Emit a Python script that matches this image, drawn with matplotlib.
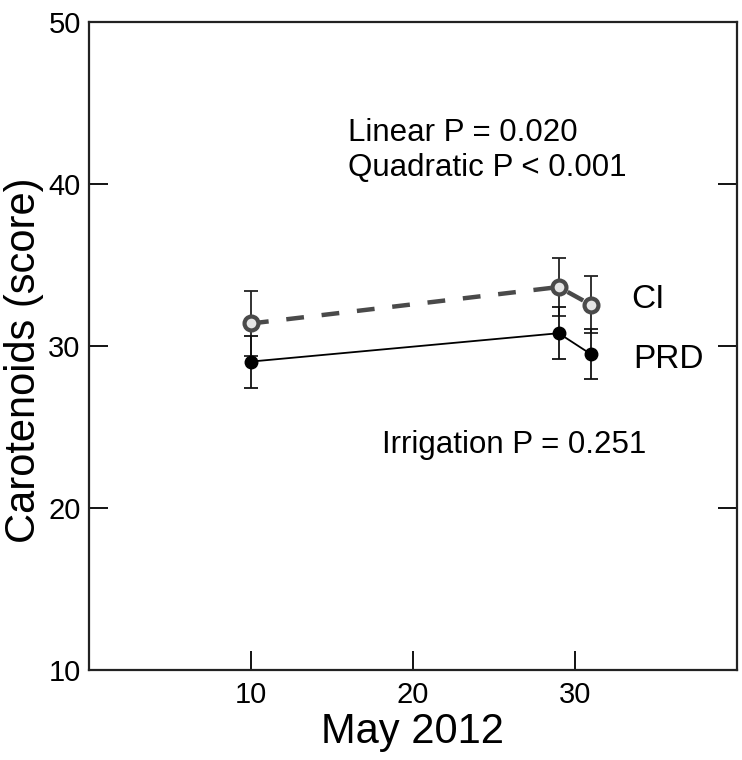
import matplotlib
matplotlib.use('Agg')
import matplotlib.pyplot as plt

# May 2012 sampling days
days = [10, 29, 31]
ci_mean = [31.4, 33.65, 32.55]
ci_err = [2.0, 1.8, 1.75]
prd_mean = [29.05, 30.8, 29.5]
prd_err = [1.6, 1.6, 1.55]

plt.rcParams['font.family'] = ['Liberation Sans', 'DejaVu Sans']

fig = plt.figure(figsize=(7.42, 7.60), dpi=100)
ax = fig.add_axes([0.12, 0.118, 0.873, 0.853])

# CI: thick grey dashed line, open circles
ax.errorbar(days, ci_mean, yerr=ci_err, fmt='none', ecolor='#222222',
            elinewidth=1.3, capsize=5, capthick=1.3, zorder=2)
ax.plot(days, ci_mean, color='#4a4a4a', lw=3.2, ls=(0, (4, 4)), zorder=3)
ax.plot(days, ci_mean, 'o', ms=10, mfc='#e6e6e6', mec='#4a4a4a', mew=3, zorder=4)

# PRD: thin black line, filled circles
ax.errorbar(days, prd_mean, yerr=prd_err, fmt='none', ecolor='#111111',
            elinewidth=1.3, capsize=5, capthick=1.3, zorder=2)
ax.plot(days, prd_mean, '-', color='black', lw=1.3, zorder=3)
ax.plot(days, prd_mean, 'o', ms=9, color='black', zorder=4)

ax.text(33.5, 32.85, 'CI', fontsize=24, va='center', ha='left')
ax.text(33.6, 29.15, 'PRD', fontsize=24, va='center', ha='left')

ax.text(16.0, 43.15, 'Linear P = 0.020', fontsize=22.5, va='center', ha='left')
ax.text(16.0, 41.0, 'Quadratic P < 0.001', fontsize=22.5, va='center', ha='left')
ax.text(18.1, 23.9, 'Irrigation P = 0.251', fontsize=22.5, va='center', ha='left')

ax.set_xlim(0, 40)
ax.set_ylim(10, 50)
ax.set_xticks([10, 20, 30])
ax.set_yticks([10, 20, 30, 40, 50])
ax.tick_params(axis='y', direction='in', length=14, width=1.3, left=True, right=True,
               labelsize=21, pad=6)
ax.tick_params(axis='x', direction='in', length=14, width=1.3, top=False,
               labelsize=21, pad=8)

for s in ax.spines.values():
    s.set_linewidth(1.6)
    s.set_color('#222222')

ax.set_xlabel('May 2012', fontsize=30, labelpad=2)
ax.set_ylabel('Carotenoids (score)', fontsize=30)
ax.yaxis.set_label_coords(-0.07, 0.478)

fig.savefig('out.png', dpi=100)
